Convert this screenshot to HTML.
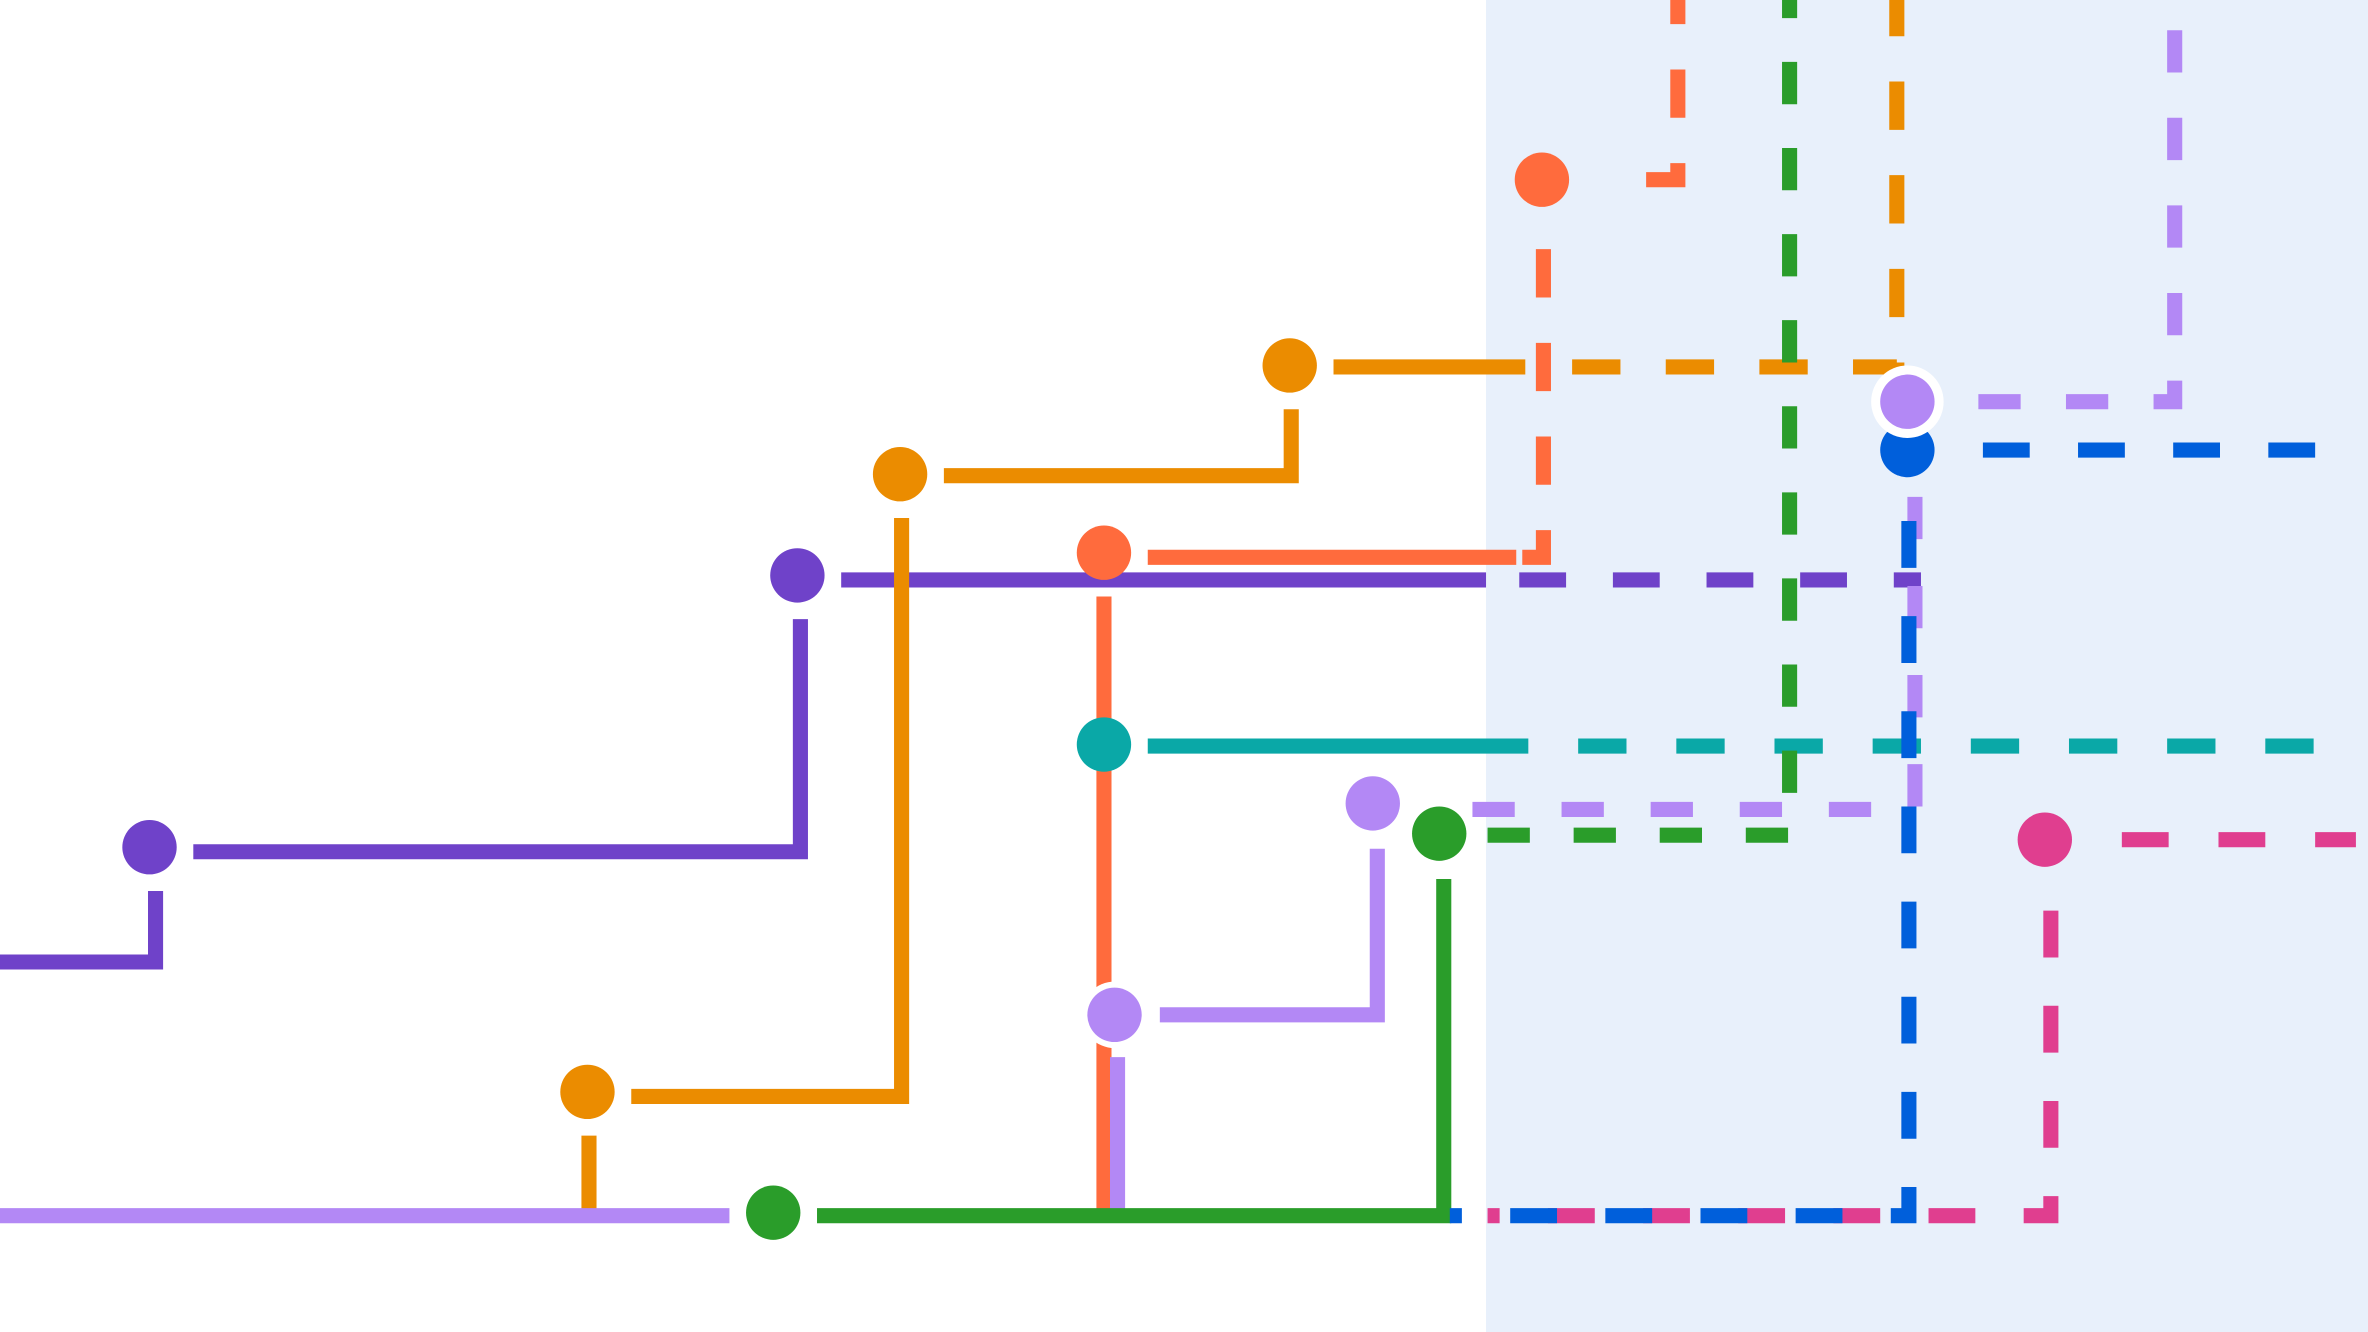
<!DOCTYPE html>
<html><head><meta charset="utf-8"><style>html,body{margin:0;padding:0;background:#fff}svg{display:block}</style></head>
<body>
<svg width="2368" height="1332" viewBox="0 0 1568 882" xmlns="http://www.w3.org/2000/svg">
<rect x="984" y="0" width="584" height="882" fill="#e8f0fb"/>
<g fill="none" stroke-width="10" stroke-linecap="butt" stroke-linejoin="miter">
<g stroke="#6f42c9">
<path d="M0 637 H103 V590"/>
<path d="M128 564 H530 V410"/>
<path d="M557 384 H984"/>
<path d="M1006 384 H1272" stroke-dasharray="31 31"/>
</g>
<g stroke="#eb8c00">
<path d="M390 752 V802"/>
<path d="M418 726 H597 V343"/>
<path d="M625 315 H855 V271"/>
<path d="M883 243 H1010"/>
<path d="M1041 243 H1256 V0" stroke-dasharray="32 30"/>
</g>
<g stroke="#ff6b3d">
<path d="M731 395 V805"/>
<path d="M760 369 H1004"/>
<path d="M1008 369 H1022 V140" stroke-dasharray="32 30"/>
<path d="M1090 119 H1111 V0" stroke-dasharray="32 30"/>
</g>
<path d="M760 494 H1012" stroke="#0aa8a7"/>
<path d="M1045 494 H1540" stroke="#0aa8a7" stroke-dasharray="32 33"/>
<g stroke="#b388f5">
<path d="M0 805 H483"/>
<path d="M740 700 V802"/>
<path d="M768 672 H912 V562"/>
<path d="M975 536 H1268 V318" stroke-dasharray="28 31"/>
<path d="M1310 266 H1440 V0" stroke-dasharray="28 30"/>
</g>
<g stroke="#2a9d2a">
<path d="M541 805 H956 V582"/>
<path d="M985 553 H1185 V0" stroke-dasharray="28 29"/>
</g>
<g stroke="#e03e8f">
<path d="M1405 556 H1560" stroke-dasharray="31 33"/>
<path d="M1358 603 V805 H985" stroke-dasharray="31 32"/>
</g>
<g stroke="#005fdb">
<path d="M1313 298 H1545" stroke-dasharray="31 32"/>
<path d="M1264 345 V805 H960" stroke-dasharray="31 32"/>
</g>
</g>
<g>
<circle cx="99" cy="561" r="18" fill="#6f42c9"/>
<circle cx="528" cy="381" r="18" fill="#6f42c9"/>
<circle cx="596" cy="314" r="18" fill="#eb8c00"/>
<circle cx="854" cy="242" r="18" fill="#eb8c00"/>
<circle cx="389" cy="723" r="18" fill="#eb8c00"/>
<circle cx="731" cy="366" r="18" fill="#ff6b3d"/>
<circle cx="1021" cy="119" r="18" fill="#ff6b3d"/>
<circle cx="731" cy="493" r="18" fill="#0aa8a7"/>
<circle cx="909" cy="532" r="18" fill="#b388f5"/>
<circle cx="738" cy="672" r="22" fill="#fff"/>
<circle cx="738" cy="672" r="18" fill="#b388f5"/>
<circle cx="512" cy="803" r="18" fill="#2a9d2a"/>
<circle cx="953" cy="552" r="18" fill="#2a9d2a"/>
<circle cx="1354" cy="556" r="18" fill="#e03e8f"/>
<circle cx="1263" cy="298" r="18" fill="#005fdb"/>
<circle cx="1263" cy="266" r="24" fill="#fff"/>
<circle cx="1263" cy="266" r="18" fill="#b388f5"/>
</g>
</svg>
</body></html>
